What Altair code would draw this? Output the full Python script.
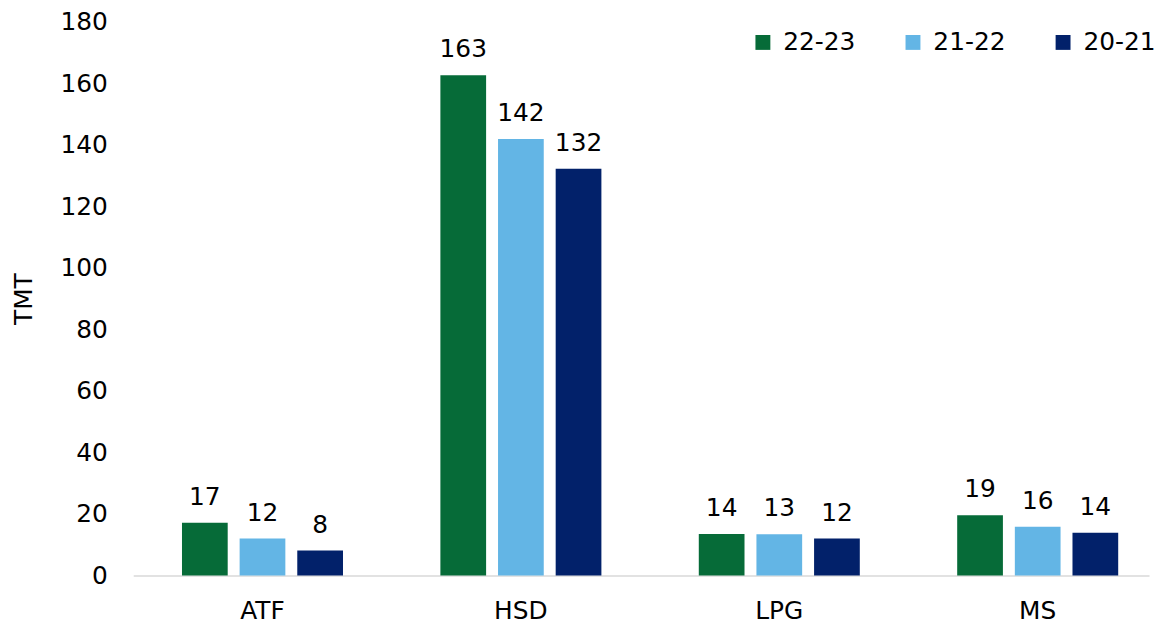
import altair as alt
import pandas as pd

categories = ["ATF", "HSD", "LPG", "MS"]
series = ["22-23", "21-22", "20-21"]
values_2223 = [17.1, 162.6, 13.5, 19.6]
values_2122 = [12.0, 141.9, 13.4, 15.8]
values_2021 = [8.1, 132.2, 12.0, 13.9]
labels_2223 = ["17", "163", "14", "19"]
labels_2122 = ["12", "142", "13", "16"]
labels_2021 = ["8", "132", "12", "14"]
colors = ["#066B38", "#63B5E5", "#02216A"]

rows = []
for s, vals, labs in zip(series, [values_2223, values_2122, values_2021],
                         [labels_2223, labels_2122, labels_2021]):
    for c, v, l in zip(categories, vals, labs):
        rows.append({"cat": c, "series": s, "value": v, "label": l})
df = pd.DataFrame(rows)

FONT = "DejaVu Sans"
FS = 25

x = alt.X("cat:N", sort=categories,
          scale=alt.Scale(paddingInner=0.3769, paddingOuter=0.154, align=0.6125),
          axis=alt.Axis(title=None, labelAngle=0, labelFontSize=FS, labelFont=FONT,
                        labelColor="#000000", ticks=False, tickSize=0, labelPadding=23,
                        domainColor="#D9D9D9", domainWidth=1.5))
xo = alt.XOffset("series:N", sort=series,
                 scale=alt.Scale(paddingInner=0.2069, paddingOuter=0))
y = alt.Y("value:Q", scale=alt.Scale(domain=[0, 180], nice=False),
          axis=alt.Axis(title="TMT", values=list(range(0, 181, 20)), grid=False,
                        domain=False, ticks=False, tickSize=0, labelPadding=26,
                        labelFontSize=FS, labelFont=FONT, labelColor="#000000",
                        titleFontSize=FS, titleFont=FONT, titleFontWeight="normal",
                        titleColor="#000000", titlePadding=24))
color = alt.Color("series:N", sort=series,
                  scale=alt.Scale(domain=series, range=colors),
                  legend=alt.Legend(title=None, orient="none", legendX=621, legendY=8,
                                    direction="horizontal", symbolType="square",
                                    symbolSize=225, symbolStrokeWidth=0,
                                    labelFontSize=FS, labelFont=FONT,
                                    labelColor="#000000", labelOffset=8,
                                    columnPadding=45))

bars = alt.Chart(df).mark_bar().encode(x=x, xOffset=xo, y=y, color=color)
text = alt.Chart(df).mark_text(baseline="alphabetic", dy=-18, fontSize=FS, font=FONT,
                               color="#000000").encode(
    x=x, xOffset=xo, y=y, text="label:N")

chart = (bars + text).properties(
    width=1022, height=557,
    background="#FFFFFF",
    padding={"left": 3, "top": 0, "right": 0, "bottom": 1},
).configure_view(strokeWidth=0, stroke="transparent")

chart.save("out.html", embed_options={"renderer": "svg", "actions": False})
